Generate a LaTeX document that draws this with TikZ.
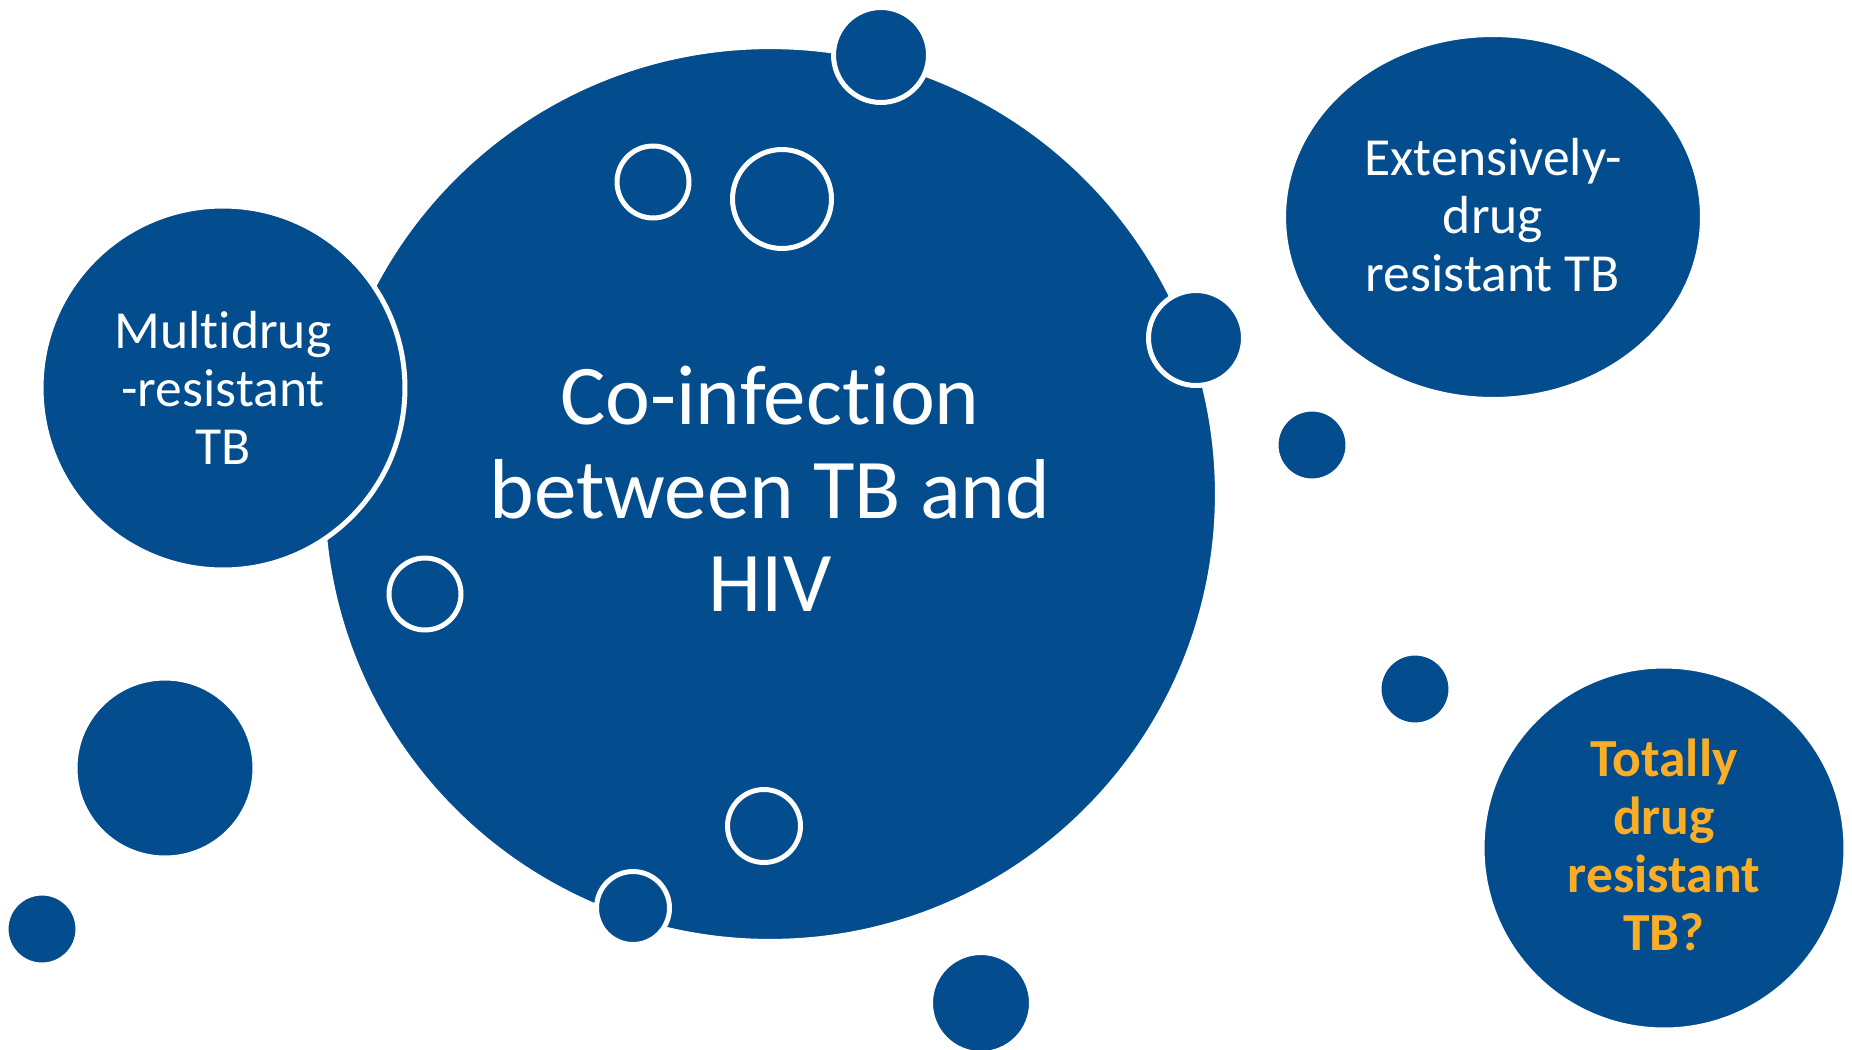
\documentclass[tikz,border=0pt]{standalone}
\usepackage{fontspec}
\setmainfont{Carlito}[Ligatures={NoCommon,NoRare}]
\usetikzlibrary{shapes.geometric}
\definecolor{tbblue}{RGB}{3,76,142}
\definecolor{tborange}{RGB}{250,174,37}
\tikzset{
  bubble/.style={circle, fill=tbblue, draw=white, line width=0.1cm, inner sep=0pt},
  bubbletext/.style={text=white, align=center, font=\fontsize{30.5}{33}\selectfont}
}
\begin{document}
\begin{tikzpicture}[x=0.02cm, y=-0.02cm]
  \useasboundingbox (0,0) rectangle (1852,1049);
  % main bubble
  \node[bubble, minimum size=17.9cm, text=white, align=center, text depth=0.2cm,
        font=\fontsize{48.4}{53.3}\selectfont] (coinf) at (770,494)
        {Co-infection\\between TB and\\HIV};
  % bubbles round it
  \node[bubble, minimum size=7.28cm, bubbletext] (mdr) at (223,388)
        {Multidrug\\-resistant\\TB};
  \node[bubble, ellipse, minimum width=8.38cm, minimum height=7.3cm, bubbletext,
        text depth=0.08cm] (xdr) at (1493,217)
        {Extensively-\\drug\\resistant TB};
  \node[bubble, minimum size=7.28cm, bubbletext, text=tborange, text depth=0.12cm,
        font=\fontsize{30.5}{33}\selectfont\bfseries] (tdr) at (1664,848)
        {Totally\\drug\\resistant\\TB?};
  \node[bubble, minimum size=1.9cm] (top) at (881,55) {};
  \node[bubble, minimum size=1.9cm] (right) at (1196,338) {};
  \node[bubble, minimum size=1.46cm] (low) at (633,908) {};
  % rings inside
  \node[bubble, minimum size=1.44cm] (ringa) at (653,182) {};
  \node[bubble, minimum size=1.98cm] (ringb) at (782,199) {};
  \node[bubble, minimum size=1.44cm] (ringc) at (425,594) {};
  \node[bubble, minimum size=1.46cm] (ringd) at (764,826) {};
  % loose dots
  \node[bubble, minimum size=2.02cm] (dota) at (981,1003) {};
  \node[bubble, minimum size=1.44cm] (dotb) at (1312,445) {};
  \node[bubble, minimum size=1.44cm] (dotc) at (1415,689) {};
  \node[bubble, minimum size=3.6cm] (dotd) at (165,768) {};
  \node[bubble, minimum size=1.44cm] (dote) at (42,929) {};
\end{tikzpicture}
\end{document}
